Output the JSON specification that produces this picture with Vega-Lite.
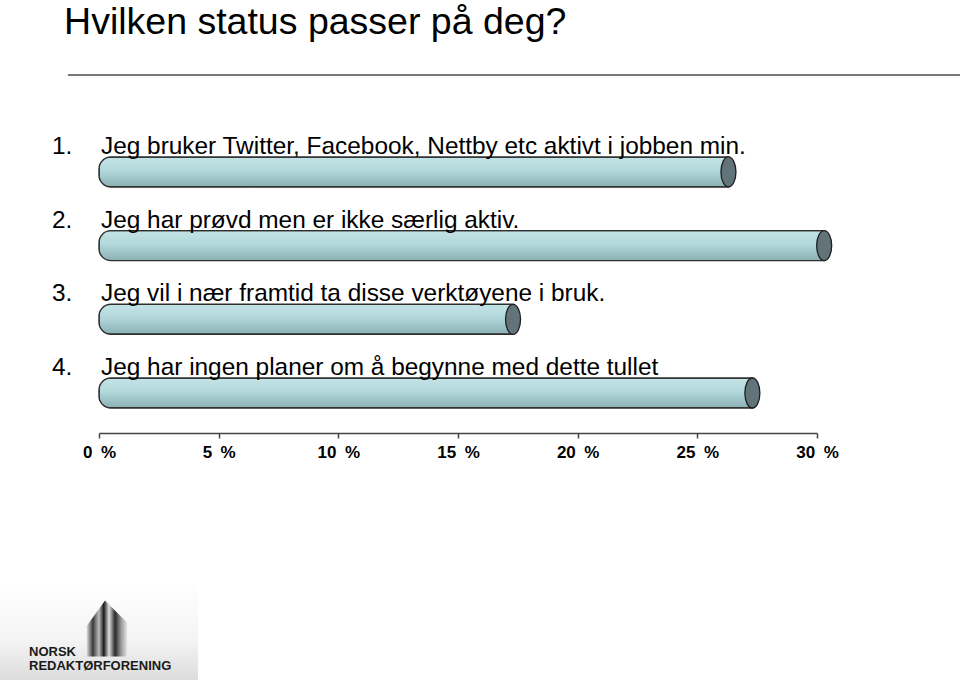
{
  "$schema": "https://vega.github.io/schema/vega-lite/v6.json",
  "width": 718,
  "height": 358,
  "autosize": "none",
  "padding": {"left": 99, "top": 75, "right": 143, "bottom": 247},
  "background": "white",
  "datasets": {
    "answers": [
      {"q": 1, "num": "1.", "label": "Jeg bruker Twitter, Facebook, Nettby etc aktivt i jobben min.", "pct": 26.3},
      {"q": 2, "num": "2.", "label": "Jeg har prøvd men er ikke særlig aktiv.", "pct": 30.3},
      {"q": 3, "num": "3.", "label": "Jeg vil i nær framtid ta disse verktøyene i bruk.", "pct": 17.3},
      {"q": 4, "num": "4.", "label": "Jeg har ingen planer om å begynne med dette tullet", "pct": 27.3}
    ],
    "heading": [{"x": -1.46, "y": -0.872, "t": "Hvilken status passer på deg?"}],
    "divider": [{"x1": -1.3, "x2": 36, "y": -0.316}],
    "logobox": [{"x1": -4.14, "x2": 4.14, "y1": 6.54, "y2": 7.9}],
    "logotext": [
      {"x": -2.925, "y": 7.569, "t": "NORSK"},
      {"x": -2.925, "y": 7.76, "t": "REDAKTØRFORENING"}
    ],
    "logonib": [{"x": 0.334, "y": 7.196}]
  },
  "layer": [
    {
      "data": {"name": "answers"},
      "mark": {
        "type": "bar",
        "orient": "horizontal",
        "size": 30,
        "cornerRadiusTopLeft": 12,
        "cornerRadiusBottomLeft": 12,
        "stroke": "#2e2e2e",
        "strokeWidth": 1.4,
        "fill": {"gradient": "linear", "x1": 0, "y1": 0, "x2": 0, "y2": 1, "stops": [{"offset": 0, "color": "#c3e4e6"}, {"offset": 0.45, "color": "#b3d8db"}, {"offset": 1, "color": "#8bb0b4"}]}
      },
      "encoding": {
        "x": {
          "field": "pct",
          "type": "quantitative",
          "scale": {"domain": [0, 30], "nice": false, "zero": false, "padding": 0},
          "axis": {
            "values": [0, 5, 10, 15, 20, 25, 30],
            "labelExpr": "datum.value + '\u2002%'",
            "title": null,
            "grid": false,
            "domainColor": "#444444",
            "domainWidth": 1.5,
            "tickColor": "#444444",
            "tickWidth": 1.5,
            "tickSize": 5,
            "labelPadding": 6,
            "labelFont": "Liberation Sans",
            "labelFontWeight": "bold",
            "labelFontSize": 17,
            "labelColor": "#000000",
            "labelFlush": false,
            "labelOverlap": false
          }
        },
        "y": {"field": "q", "type": "quantitative", "axis": null, "scale": {"domain": [-0.316, 4.543], "nice": false, "zero": false, "reverse": true, "padding": 0}}
      }
    },
    {
      "data": {"name": "logobox"},
      "mark": {
        "type": "rect",
        "fill": {"gradient": "linear", "x1": 0, "y1": 0, "x2": 0, "y2": 1, "stops": [{"offset": 0, "color": "#ffffff"}, {"offset": 0.6, "color": "#f4f4f4"}, {"offset": 1, "color": "#dcdcdc"}]}
      },
      "encoding": {
        "x": {"field": "x1", "type": "quantitative"},
        "x2": {"field": "x2"},
        "y": {"field": "y1", "type": "quantitative", "axis": null},
        "y2": {"field": "y2"}
      }
    },
    {
      "data": {"name": "divider"},
      "mark": {"type": "rule", "color": "#4d4d4d", "strokeWidth": 1.6},
      "encoding": {
        "x": {"field": "x1", "type": "quantitative"},
        "x2": {"field": "x2"},
        "y": {"field": "y", "type": "quantitative", "axis": null}
      }
    },
    {
      "data": {"name": "answers"},
      "mark": {
        "type": "point",
        "shape": "M0,-1 A0.5,1 0 1,1 0,1 A0.5,1 0 1,1 0,-1 Z",
        "size": 900,
        "filled": true,
        "fill": "#627479",
        "stroke": "#1e1e1e",
        "strokeWidth": 1.3,
        "opacity": 1
      },
      "encoding": {
        "x": {"field": "pct", "type": "quantitative"},
        "y": {"field": "q", "type": "quantitative", "axis": null}
      }
    },
    {
      "data": {"name": "heading"},
      "mark": {"type": "text", "align": "left", "baseline": "alphabetic", "font": "Liberation Sans", "fontSize": 37.5, "color": "#000000"},
      "encoding": {
        "x": {"field": "x", "type": "quantitative"},
        "y": {"field": "y", "type": "quantitative", "axis": null},
        "text": {"field": "t"}
      }
    },
    {
      "data": {"name": "answers"},
      "mark": {"type": "text", "align": "left", "baseline": "alphabetic", "dx": -47, "dy": -18, "font": "Liberation Sans", "fontSize": 24.4, "color": "#000000"},
      "encoding": {
        "x": {"datum": 0, "type": "quantitative"},
        "y": {"field": "q", "type": "quantitative", "axis": null},
        "text": {"field": "num"}
      }
    },
    {
      "data": {"name": "answers"},
      "mark": {"type": "text", "align": "left", "baseline": "alphabetic", "dx": 2, "dy": -18, "font": "Liberation Sans", "fontSize": 24.4, "color": "#000000"},
      "encoding": {
        "x": {"datum": 0, "type": "quantitative"},
        "y": {"field": "q", "type": "quantitative", "axis": null},
        "text": {"field": "label"}
      }
    },
    {
      "data": {"name": "logonib"},
      "mark": {
        "type": "point",
        "shape": "M-0.07,-1 L-0.72,-0.1 L-0.72,1 L0.72,1 L0.72,-0.2 Z",
        "size": 3136,
        "filled": true,
        "opacity": 1,
        "fill": {"gradient": "linear", "x1": 0, "y1": 0, "x2": 1, "y2": 0, "stops": [{"offset": 0, "color": "#d8d8d8"}, {"offset": 0.15, "color": "#3a3a3a"}, {"offset": 0.3, "color": "#bdbdbd"}, {"offset": 0.42, "color": "#1a1a1a"}, {"offset": 0.55, "color": "#e0e0e0"}, {"offset": 0.7, "color": "#2a2a2a"}, {"offset": 0.85, "color": "#9a9a9a"}, {"offset": 1, "color": "#e6e6e6"}]}
      },
      "encoding": {
        "x": {"field": "x", "type": "quantitative"},
        "y": {"field": "y", "type": "quantitative", "axis": null}
      }
    },
    {
      "data": {"name": "logotext"},
      "mark": {"type": "text", "align": "left", "baseline": "alphabetic", "font": "Liberation Sans", "fontWeight": "bold", "fontSize": 13, "color": "#1a1a1a"},
      "encoding": {
        "x": {"field": "x", "type": "quantitative"},
        "y": {"field": "y", "type": "quantitative", "axis": null},
        "text": {"field": "t"}
      }
    }
  ],
  "config": {
    "view": {"stroke": null},
    "axis": {"grid": false, "title": null}
  }
}
